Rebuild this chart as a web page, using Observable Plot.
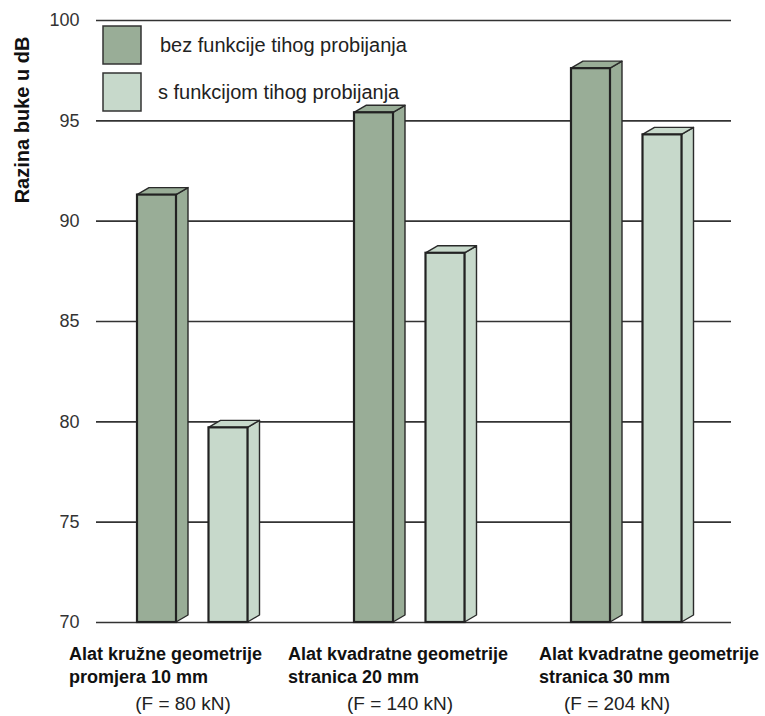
<!DOCTYPE html>
<html><head><meta charset="utf-8">
<script src="https://cdn.jsdelivr.net/npm/d3@7"></script>
<script src="https://cdn.jsdelivr.net/npm/@observablehq/plot@0.6"></script>
<style>
body{margin:0;background:#fff;}
#chart svg{display:block;}
</style>
</head><body><div id="chart"></div>
<script>
// ---- data ----
const groups = [
  "Alat kružne geometrije\npromjera 10 mm",
  "Alat kvadratne geometrije\nstranica 20 mm",
  "Alat kvadratne geometrije\nstranica 30 mm"
];
const forces = ["(F = 80 kN)", "(F = 140 kN)", "(F = 204 kN)"];
const series = ["bez funkcije tihog probijanja", "s funkcijom tihog probijanja"];
const valuesWithout = [91.3, 95.4, 97.6];
const valuesWith = [79.7, 88.4, 94.3];
const yTicks = [70, 75, 80, 85, 90, 95, 100];
const yLabel = "Razina buke u dB";
const colors = ["#99ad97", "#c7d9cb"];

// ---- layout ----
const W = 765, H = 716;
const mL = 96, mR = 34, mT = 20, mB = 94;
const xRange = [88.5, 739.5];
const barW = 39, barOff = [48, 119.5];
const depthX = 12, depthY = 7;
const labelDx = [-129, -127, -93];
const forceDx = -15;
const font = '"Liberation Sans", Arial, sans-serif';

const rows = [];
groups.forEach((g, i) => {
  rows.push({group: g, series: series[0], s: 0, value: valuesWithout[i]});
  rows.push({group: g, series: series[1], s: 1, value: valuesWith[i]});
});
const yMin = yTicks[0];

function faces(index, scales) {
  const g = d3.create("svg:g");
  const x = scales.x, y = scales.y, c = scales.color;
  for (const d of rows) {
    const x1 = x(d.group) + barOff[d.s], x2 = x1 + barW;
    const yT = y(d.value), yB = y(yMin);
    const fill = c(d.series);
    g.append("path")
      .attr("d", `M${x2},${yT}L${x2 + depthX},${yT - depthY}L${x2 + depthX},${yB - depthY}L${x2},${yB}Z`)
      .attr("fill", fill).attr("stroke", "#2a2a2a").attr("stroke-width", 1.4).attr("stroke-linejoin", "round");
    g.append("path")
      .attr("d", `M${x1},${yT}L${x1 + depthX},${yT - depthY}L${x2 + depthX},${yT - depthY}L${x2},${yT}Z`)
      .attr("fill", fill).attr("stroke", "#2a2a2a").attr("stroke-width", 1.4).attr("stroke-linejoin", "round");
  }
  return g.node();
}

function legend(index, scales) {
  const g = d3.create("svg:g").attr("text-anchor", "start");
  const c = scales.color;
  const left = mL + 7;
  const top = mT + 6;
  series.forEach((s, i) => {
    const yy = top + i * 47;
    g.append("rect").attr("x", left).attr("y", yy).attr("width", 38).attr("height", 38)
      .attr("fill", c(s)).attr("stroke", "#333").attr("stroke-width", 1.5);
    g.append("text").attr("x", left + 57 - i * 2).attr("y", yy + 19).attr("dy", "0.35em")
      .attr("text-anchor", "start")
      .attr("font-family", font).attr("font-size", 20).attr("fill", "#222").text(s);
  });
  g.append("text").attr("transform", `translate(22,${mT + 100}) rotate(-90)`)
    .attr("text-anchor", "middle").attr("dy", "0.35em")
    .attr("font-family", font).attr("font-size", 20).attr("font-weight", "bold").attr("fill", "#111")
    .text(yLabel);
  return g.node();
}

const marks = [
  Plot.ruleY(yTicks, {stroke: "#333", strokeWidth: 1.6}),
  faces,
  ...series.map((s, k) => Plot.barY(rows.filter(d => d.s === k), {
    x: "group", y1: () => yMin, y2: "value", fill: "series",
    insetLeft: barOff[k], insetRight: (xRange[1] - xRange[0]) / groups.length - barOff[k] - barW,
    stroke: "#222", strokeWidth: 2.2
  })),
  ...groups.map((g, i) => Plot.text([g], {
    x: d => d, text: d => d, frameAnchor: "bottom", textAnchor: "start", lineAnchor: "top",
    dx: labelDx[i], dy: 21, fontSize: 18, fontWeight: "bold", lineHeight: 1.27, fill: "#111",
    fontFamily: font
  })),
  Plot.text(groups.map((g, i) => ({g, f: forces[i]})), {
    x: "g", text: "f", frameAnchor: "bottom", textAnchor: "middle", lineAnchor: "bottom",
    dx: forceDx, dy: 87, fontSize: 19, fill: "#222", fontFamily: font
  }),
  legend
];

const chart = Plot.plot({
  width: W, height: H,
  marginLeft: mL, marginRight: mR, marginTop: mT, marginBottom: mB,
  style: {fontFamily: font, fontSize: "18px", color: "#333", background: "#fff"},
  x: {domain: groups, range: xRange, padding: 0, axis: null},
  y: {domain: [yMin, yTicks[yTicks.length - 1]], ticks: 6, tickSize: 0, tickPadding: 17, label: null},
  color: {domain: series, range: colors},
  marks
});
document.getElementById("chart").appendChild(chart);
</script>
</body></html>
